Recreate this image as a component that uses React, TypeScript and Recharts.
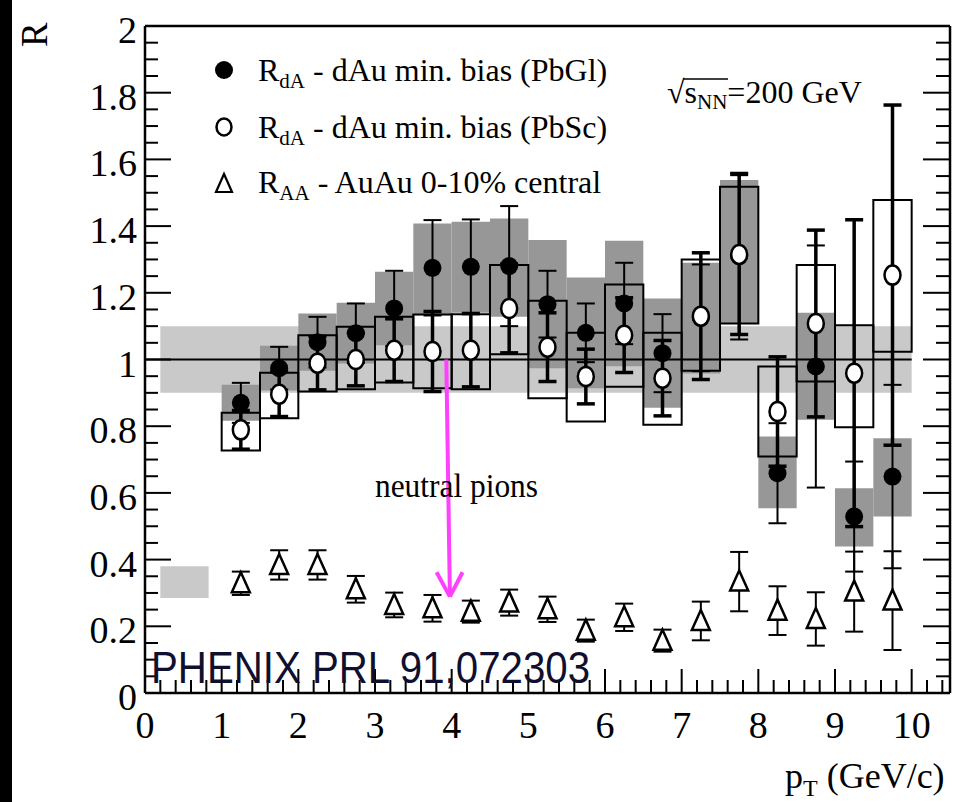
import React from 'react';
import { ComposedChart, XAxis, YAxis, Scatter, ErrorBar, ReferenceArea, ReferenceLine } from 'recharts';

// pT bin centres and edges (GeV/c)
const binCenters = [1.25, 1.75, 2.25, 2.75, 3.25, 3.75, 4.25, 4.75, 5.25, 5.75, 6.25, 6.75, 7.25, 7.75, 8.25, 8.75, 9.25, 9.75];
const binLow = [1.0, 1.5, 2.0, 2.5, 3.0, 3.5, 4.0, 4.5, 5.0, 5.5, 6.0, 6.5, 7.0, 7.5, 8.0, 8.5, 9.0, 9.5];
const binHigh = [1.5, 2.0, 2.5, 3.0, 3.5, 4.0, 4.5, 5.0, 5.5, 6.0, 6.5, 7.0, 7.5, 8.0, 8.5, 9.0, 9.5, 10.0];

// R_dA, dAu min. bias, PbGl (filled)
const pbglR = [0.87, 0.974, 1.052, 1.079, 1.153, 1.275, 1.278, 1.28, 1.166, 1.08, 1.168, 1.019, 1.125, 1.31, 0.659, 0.979, 0.529, 0.649];
const pbglStat = [0.06, 0.064, 0.076, 0.089, 0.113, 0.143, 0.142, 0.18, 0.1, 0.088, 0.122, 0.117, 0.16, 0.25, 0.15, 0.363, 0.165, 0.275];
const pbglSysLow = [0.816, 0.907, 0.966, 0.988, 1.043, 1.133, 1.14, 1.128, 0.974, 0.914, 0.98, 0.855, 0.958, 1.108, 0.554, 0.819, 0.439, 0.529];
const pbglSysHigh = [0.924, 1.041, 1.138, 1.17, 1.263, 1.408, 1.413, 1.423, 1.358, 1.246, 1.356, 1.183, 1.29, 1.538, 0.769, 1.14, 0.614, 0.764];

// R_dA, dAu min. bias, PbSc (open)
const pbscR = [0.789, 0.896, 0.989, 1.0, 1.028, 1.024, 1.028, 1.153, 1.037, 0.949, 1.073, 0.944, 1.13, 1.315, 0.844, 1.108, 0.959, 1.253];
const pbscStat = [0.058, 0.067, 0.08, 0.079, 0.094, 0.12, 0.11, 0.133, 0.103, 0.082, 0.112, 0.113, 0.19, 0.24, 0.164, 0.28, 0.46, 0.51];
const pbscSysLow = [0.727, 0.824, 0.904, 0.911, 0.931, 0.914, 0.911, 1.016, 0.884, 0.814, 0.918, 0.804, 0.966, 1.108, 0.709, 0.934, 0.797, 1.023];
const pbscSysHigh = [0.84, 0.96, 1.073, 1.098, 1.128, 1.135, 1.136, 1.283, 1.176, 1.08, 1.225, 1.08, 1.3, 1.518, 0.979, 1.283, 1.103, 1.478];

// R_AA, AuAu 0-10% central (triangles)
const auauR = [0.329, 0.384, 0.384, 0.311, 0.264, 0.254, 0.244, 0.271, 0.251, 0.187, 0.227, 0.157, 0.216, 0.334, 0.247, 0.222, 0.304, 0.277];
const auauStat = [0.035, 0.044, 0.044, 0.04, 0.037, 0.04, 0.033, 0.039, 0.038, 0.033, 0.041, 0.033, 0.058, 0.089, 0.073, 0.08, 0.12, 0.148];

// normalisation bands
const dAuNormX = [0.2, 10.0];
const dAuNormY = [0.9, 1.1];
const auauNormX = [0.2, 0.83];
const auauNormY = [0.285, 0.38];

// arrow annotation (data units)
const arrowShaft = [{ x: 3.93, y: 1.0 }, { x: 3.977, y: 0.289 }];
const arrowWingL = [{ x: 3.803, y: 0.362 }, { x: 3.977, y: 0.289 }];
const arrowWingR = [{ x: 4.142, y: 0.362 }, { x: 3.977, y: 0.289 }];

const xTickLabels = ['0', '1', '2', '3', '4', '5', '6', '7', '8', '9', '10'];
const yTickLabels = ['0', '0.2', '0.4', '0.6', '0.8', '1', '1.2', '1.4', '1.6', '1.8', '2'];

const xTicks = Array.from({ length: 53 }, (_, i) => Math.round(i * 2) / 10);
const yTicks = Array.from({ length: 41 }, (_, i) => Math.round(i * 5) / 100);

const pbglData = binCenters.map((x, i) => ({ x, y: pbglR[i], err: pbglStat[i] }));
const pbscData = binCenters.map((x, i) => ({ x, y: pbscR[i], err: pbscStat[i] }));
const auauData = binCenters.map((x, i) => ({ x, y: auauR[i], err: auauStat[i] }));

const SERIF = '"Liberation Serif", "Times New Roman", serif';
const DARK = '#979797';
const LIGHT = '#c9c9c9';
const MAGENTA = '#ff40ff';

const isMajorX = (v: number) => Math.abs(v - Math.round(v)) < 1e-6;
const isMajorY = (v: number) => Math.abs(v * 5 - Math.round(v * 5)) < 1e-6;

// axes are 1px thick boxes (recharts skips axes of zero size), ticks drawn inward by hand
const bottomTick = (p: any) => {
  const v = p.payload.value;
  const major = isMajorX(v);
  return (
    <g>
      <line x1={p.x} x2={p.x} y1={p.y - 1} y2={p.y - 1 - (major ? 23 : 12)} stroke="#000" strokeWidth={2} />
      {major && (
        <text x={p.x} y={p.y + 45} textAnchor="middle" fontSize={38} fontFamily={SERIF} fill="#000">
          {xTickLabels[Math.round(v)]}
        </text>
      )}
    </g>
  );
};

const topTick = (p: any) => {
  const major = isMajorX(p.payload.value);
  return <line x1={p.x} x2={p.x} y1={p.y + 1} y2={p.y + 1 + (major ? 23 : 11)} stroke="#000" strokeWidth={2} />;
};

const leftTick = (p: any) => {
  const v = p.payload.value;
  const major = isMajorY(v);
  return (
    <g>
      <line x1={p.x + 1} x2={p.x + 1 + (major ? 25 : 12)} y1={p.y} y2={p.y} stroke="#000" strokeWidth={2} />
      {major && (
        <text x={p.x - 8} y={p.y + 17} textAnchor="end" fontSize={38} fontFamily={SERIF} fill="#000">
          {yTickLabels[Math.round(v * 5)]}
        </text>
      )}
    </g>
  );
};

const rightTick = (p: any) => {
  const major = isMajorY(p.payload.value);
  return <line x1={p.x - 1} x2={p.x - 1 - (major ? 26 : 13)} y1={p.y} y2={p.y} stroke="#000" strokeWidth={2} />;
};

const FilledDot = (p: any) => <circle cx={p.cx} cy={p.cy} r={9} fill="#000" />;
const OpenDot = (p: any) => (
  <ellipse cx={p.cx} cy={p.cy} rx={8} ry={9.5} fill="#fff" stroke="#000" strokeWidth={2.5} />
);
const TriDot = (p: any) => (
  <path
    d={`M${p.cx},${p.cy - 11} L${p.cx + 9},${p.cy + 9} L${p.cx - 9},${p.cy + 9} Z`}
    fill="#fff"
    stroke="#000"
    strokeWidth={2.5}
  />
);

function Overlay() {
  return (
    <svg width={953} height={802} style={{ position: 'absolute', left: 0, top: 0, pointerEvents: 'none' }}>
      <text transform="translate(47,47) rotate(-90)" fontSize={37} fontFamily={SERIF} fill="#000">R</text>

      <circle cx={224} cy={70} r={9} fill="#000" />
      <ellipse cx={224} cy={127} rx={7.5} ry={8.5} fill="#fff" stroke="#000" strokeWidth={2.5} />
      <path d="M224,174 L232,192 L216,192 Z" fill="#fff" stroke="#000" strokeWidth={2.2} />

      <text x={258} y={81} fontSize={32} fontFamily={SERIF} fill="#000">
        R<tspan fontSize={21} dy={7}>dA</tspan><tspan dy={-7}> - dAu min. bias (PbGl)</tspan>
      </text>
      <text x={258} y={138} fontSize={32} fontFamily={SERIF} fill="#000">
        R<tspan fontSize={21} dy={7}>dA</tspan><tspan dy={-7}> - dAu min. bias (PbSc)</tspan>
      </text>
      <text x={258} y={193} fontSize={32} fontFamily={SERIF} fill="#000">
        R<tspan fontSize={21} dy={7}>AA</tspan><tspan dy={-7}> - AuAu 0-10% central</tspan>
      </text>

      <text x={667} y={103} fontSize={32} fontFamily={SERIF} fill="#000">
        √s<tspan fontSize={21} dy={6}>NN</tspan><tspan dy={-6}>=200 GeV</tspan>
      </text>
      <line x1={684} x2={728} y1={79} y2={79} stroke="#000" strokeWidth={1.5} />

      <text x={375} y={497} fontSize={33} fontFamily={SERIF} fill="#000" textLength={163} lengthAdjust="spacingAndGlyphs">
        neutral pions
      </text>

      <text x={151} y={683} fontSize={44} fontFamily='"Liberation Sans", Arial, sans-serif' fill="#10102e" textLength={439} lengthAdjust="spacingAndGlyphs">
        PHENIX PRL 91,072303
      </text>

      <text x={785} y={788} fontSize={36} fontFamily={SERIF} fill="#000">
        p<tspan fontSize={24} dy={8}>T</tspan><tspan dy={-8}> (GeV/c)</tspan>
      </text>
    </svg>
  );
}

export default function App() {
  return (
    <div style={{ position: 'absolute', left: 0, top: 0, width: 953, height: 802, background: '#fff', overflow: 'hidden' }}>
      <div style={{ position: 'absolute', left: 0, top: 0, width: 12, height: 802, background: '#000' }} />
      <ComposedChart width={953} height={802} margin={{ top: 25, right: 2, bottom: 108, left: 144 }}>
        <XAxis
          type="number"
          dataKey="x"
          domain={[0, 10.5]}
          allowDataOverflow
          ticks={xTicks}
          interval={0}
          tick={bottomTick}
          tickLine={false}
          tickSize={0}
          tickMargin={0}
          height={1}
          axisLine={{ stroke: '#000', strokeWidth: 2.5 }}
        />
        <XAxis
          xAxisId="top"
          orientation="top"
          type="number"
          domain={[0, 10.5]}
          allowDataOverflow
          ticks={xTicks}
          interval={0}
          tick={topTick}
          tickLine={false}
          tickSize={0}
          tickMargin={0}
          height={1}
          axisLine={{ stroke: '#000', strokeWidth: 2.5 }}
        />
        <YAxis
          type="number"
          dataKey="y"
          domain={[0, 2]}
          allowDataOverflow
          ticks={yTicks}
          interval={0}
          tick={leftTick}
          tickLine={false}
          tickSize={0}
          tickMargin={0}
          width={1}
          axisLine={{ stroke: '#000', strokeWidth: 2.5 }}
        />
        <YAxis
          yAxisId="right"
          orientation="right"
          type="number"
          domain={[0, 2]}
          allowDataOverflow
          ticks={yTicks}
          interval={0}
          tick={rightTick}
          tickLine={false}
          tickSize={0}
          tickMargin={0}
          width={1}
          axisLine={{ stroke: '#000', strokeWidth: 2.5 }}
        />

        <ReferenceArea x1={dAuNormX[0]} x2={dAuNormX[1]} y1={dAuNormY[0]} y2={dAuNormY[1]} fill={LIGHT} fillOpacity={1} stroke="none" />
        <ReferenceArea x1={auauNormX[0]} x2={auauNormX[1]} y1={auauNormY[0]} y2={auauNormY[1]} fill={LIGHT} fillOpacity={1} stroke="none" />

        {binCenters.map((_, i) => (
          <ReferenceArea
            key={`gl-${i}`}
            x1={binLow[i]}
            x2={binHigh[i]}
            y1={pbglSysLow[i]}
            y2={pbglSysHigh[i]}
            fill={DARK}
            fillOpacity={1}
            stroke="none"
          />
        ))}
        {binCenters.map((_, i) => (
          <ReferenceArea
            key={`sc-${i}`}
            x1={binLow[i]}
            x2={binHigh[i]}
            y1={pbscSysLow[i]}
            y2={pbscSysHigh[i]}
            fill="none"
            fillOpacity={0}
            stroke="#000"
            strokeWidth={2}
          />
        ))}

        <ReferenceLine segment={[{ x: 0, y: 1 }, { x: 10, y: 1 }]} stroke="#000" strokeWidth={2} />

        <Scatter data={pbglData} dataKey="y" shape={FilledDot} isAnimationActive={false}>
          <ErrorBar dataKey="err" direction="y" width={9} stroke="#000" strokeWidth={2} isAnimationActive={false} />
        </Scatter>
        <Scatter data={pbscData} dataKey="y" shape={OpenDot} isAnimationActive={false}>
          <ErrorBar dataKey="err" direction="y" width={9} stroke="#000" strokeWidth={3.5} isAnimationActive={false} />
        </Scatter>
        <Scatter data={auauData} dataKey="y" shape={TriDot} isAnimationActive={false}>
          <ErrorBar dataKey="err" direction="y" width={9} stroke="#000" strokeWidth={2} isAnimationActive={false} />
        </Scatter>

        <ReferenceLine segment={arrowShaft} stroke={MAGENTA} strokeWidth={4} />
        <ReferenceLine segment={arrowWingL} stroke={MAGENTA} strokeWidth={4} />
        <ReferenceLine segment={arrowWingR} stroke={MAGENTA} strokeWidth={4} />
      </ComposedChart>
      <Overlay />
    </div>
  );
}
